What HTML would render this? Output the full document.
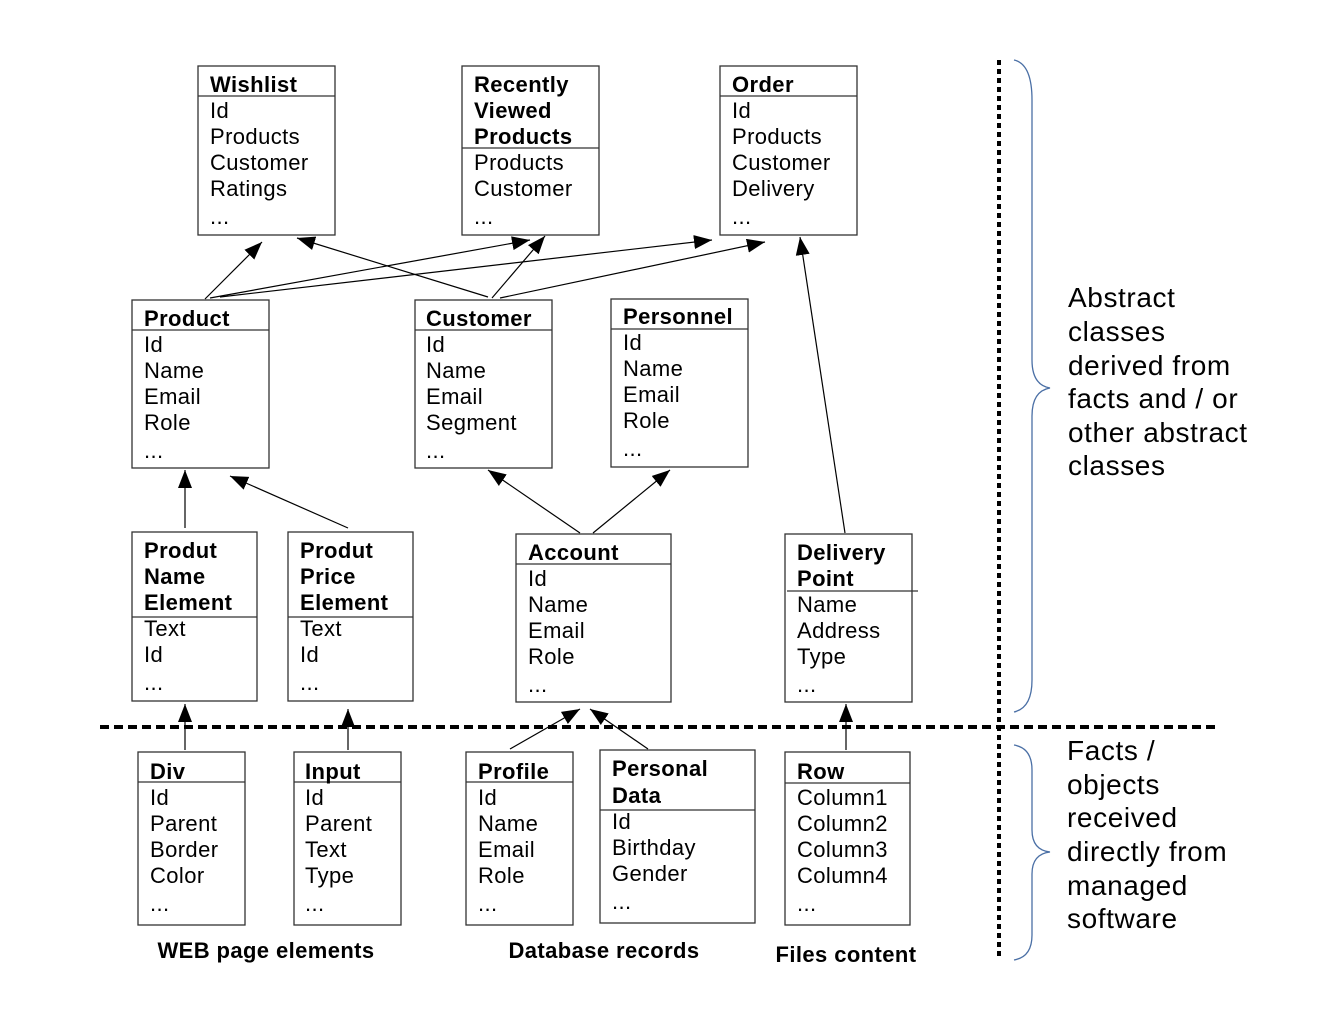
<!DOCTYPE html>
<html><head><meta charset="utf-8"><style>
html,body{margin:0;padding:0;background:#fff}
svg text{font-family:"Liberation Sans",sans-serif;font-size:22px;fill:#000;letter-spacing:0.4px}
.b{font-weight:bold}
.r{font-size:28px;letter-spacing:0.6px}
</style></head><body>
<svg width="1320" height="1020" viewBox="0 0 1320 1020" xmlns="http://www.w3.org/2000/svg">
<defs>
<marker id="a" markerWidth="20" markerHeight="14" refX="18" refY="7" orient="auto" markerUnits="userSpaceOnUse">
<path d="M0,0 L18,7 L0,14 Z" fill="#000"/></marker>
</defs>
<g fill="none" stroke="#333" stroke-width="1.3">
<rect x="198" y="66" width="137" height="169"/><line x1="198" y1="96" x2="335" y2="96"/>
<rect x="462" y="66" width="137" height="169"/><line x1="462" y1="148" x2="599" y2="148"/>
<rect x="720" y="66" width="137" height="169"/><line x1="720" y1="96" x2="857" y2="96"/>
<rect x="132" y="300" width="137" height="168"/><line x1="132" y1="330" x2="269" y2="330"/>
<rect x="415" y="300" width="137" height="168"/><line x1="415" y1="330" x2="552" y2="330"/>
<rect x="611" y="299" width="137" height="168"/><line x1="611" y1="329" x2="748" y2="329"/>
<rect x="132" y="532" width="125" height="169"/><line x1="132" y1="617" x2="257" y2="617"/>
<rect x="288" y="532" width="125" height="169"/><line x1="288" y1="617" x2="413" y2="617"/>
<rect x="516" y="534" width="155" height="168"/><line x1="516" y1="564" x2="671" y2="564"/>
<rect x="785" y="534" width="127" height="168"/><line x1="787" y1="591" x2="918" y2="591"/>
<rect x="138" y="752" width="107" height="173"/><line x1="138" y1="782" x2="245" y2="782"/>
<rect x="294" y="752" width="107" height="173"/><line x1="294" y1="782" x2="401" y2="782"/>
<rect x="466" y="752" width="107" height="173"/><line x1="466" y1="782" x2="573" y2="782"/>
<rect x="600" y="750" width="155" height="173"/><line x1="600" y1="810" x2="755" y2="810"/>
<rect x="785" y="752" width="125" height="173"/><line x1="785" y1="783" x2="910" y2="783"/>
</g>
<g stroke="#000" stroke-width="1.2" marker-end="url(#a)">
<line x1="205" y1="299" x2="262" y2="242"/>
<line x1="488" y1="297" x2="297" y2="238"/>
<line x1="210" y1="298" x2="530" y2="240"/>
<line x1="492" y1="298" x2="545" y2="236"/>
<line x1="220" y1="297" x2="712" y2="240"/>
<line x1="500" y1="298" x2="765" y2="242"/>
<line x1="845" y1="533" x2="800" y2="237"/>
<line x1="185" y1="528" x2="185" y2="470"/>
<line x1="348" y1="528" x2="230" y2="476"/>
<line x1="580" y1="533" x2="488" y2="470"/>
<line x1="593" y1="533" x2="670" y2="470"/>
<line x1="185" y1="750" x2="185" y2="704"/>
<line x1="348" y1="750" x2="348" y2="709"/>
<line x1="510" y1="749" x2="580" y2="709"/>
<line x1="648" y1="749" x2="590" y2="709"/>
<line x1="846" y1="750" x2="846" y2="704"/>
</g>
<line x1="100" y1="727" x2="1215" y2="727" stroke="#000" stroke-width="4" stroke-dasharray="9,5"/>
<line x1="999" y1="60" x2="999" y2="960" stroke="#000" stroke-width="4" stroke-dasharray="5,4"/>
<g fill="none" stroke="#4a6fa5" stroke-width="1.3">
<path d="M1014,60 Q1032,64 1032,100 L1032,360 Q1032,385 1050,388 Q1032,391 1032,416 L1032,680 Q1032,708 1014,712"/>
<path d="M1014,745 Q1032,748 1032,770 L1032,830 Q1032,850 1050,852 Q1032,854 1032,874 L1032,935 Q1032,957 1014,960"/>
</g>
<text class="b" x="210" y="92">Wishlist</text>
<text x="210" y="118">Id</text><text x="210" y="144">Products</text><text x="210" y="170">Customer</text><text x="210" y="196">Ratings</text><text x="210" y="224">...</text>
<text class="b" x="474" y="92">Recently</text><text class="b" x="474" y="118">Viewed</text><text class="b" x="474" y="144">Products</text>
<text x="474" y="170">Products</text><text x="474" y="196">Customer</text><text x="474" y="224">...</text>
<text class="b" x="732" y="92">Order</text>
<text x="732" y="118">Id</text><text x="732" y="144">Products</text><text x="732" y="170">Customer</text><text x="732" y="196">Delivery</text><text x="732" y="224">...</text>
<text class="b" x="144" y="326">Product</text>
<text x="144" y="352">Id</text><text x="144" y="378">Name</text><text x="144" y="404">Email</text><text x="144" y="430">Role</text><text x="144" y="458">...</text>
<text class="b" x="426" y="326">Customer</text>
<text x="426" y="352">Id</text><text x="426" y="378">Name</text><text x="426" y="404">Email</text><text x="426" y="430">Segment</text><text x="426" y="458">...</text>
<text class="b" x="623" y="324">Personnel</text>
<text x="623" y="350">Id</text><text x="623" y="376">Name</text><text x="623" y="402">Email</text><text x="623" y="428">Role</text><text x="623" y="456">...</text>
<text class="b" x="144" y="558">Produt</text><text class="b" x="144" y="584">Name</text><text class="b" x="144" y="610">Element</text>
<text x="144" y="636">Text</text><text x="144" y="662">Id</text><text x="144" y="690">...</text>
<text class="b" x="300" y="558">Produt</text><text class="b" x="300" y="584">Price</text><text class="b" x="300" y="610">Element</text>
<text x="300" y="636">Text</text><text x="300" y="662">Id</text><text x="300" y="690">...</text>
<text class="b" x="528" y="560">Account</text>
<text x="528" y="586">Id</text><text x="528" y="612">Name</text><text x="528" y="638">Email</text><text x="528" y="664">Role</text><text x="528" y="692">...</text>
<text class="b" x="797" y="560">Delivery</text><text class="b" x="797" y="586">Point</text>
<text x="797" y="612">Name</text><text x="797" y="638">Address</text><text x="797" y="664">Type</text><text x="797" y="692">...</text>
<text class="b" x="150" y="779">Div</text>
<text x="150" y="805">Id</text><text x="150" y="831">Parent</text><text x="150" y="857">Border</text><text x="150" y="883">Color</text><text x="150" y="911">...</text>
<text class="b" x="305" y="779">Input</text>
<text x="305" y="805">Id</text><text x="305" y="831">Parent</text><text x="305" y="857">Text</text><text x="305" y="883">Type</text><text x="305" y="911">...</text>
<text class="b" x="478" y="779">Profile</text>
<text x="478" y="805">Id</text><text x="478" y="831">Name</text><text x="478" y="857">Email</text><text x="478" y="883">Role</text><text x="478" y="911">...</text>
<text class="b" x="612" y="776">Personal</text><text class="b" x="612" y="803">Data</text>
<text x="612" y="829">Id</text><text x="612" y="855">Birthday</text><text x="612" y="881">Gender</text><text x="612" y="909">...</text>
<text class="b" x="797" y="779">Row</text>
<text x="797" y="805">Column1</text><text x="797" y="831">Column2</text><text x="797" y="857">Column3</text><text x="797" y="883">Column4</text><text x="797" y="911">...</text>
<text class="b" x="266" y="958" text-anchor="middle">WEB page elements</text>
<text class="b" x="604" y="958" text-anchor="middle">Database records</text>
<text class="b" x="846" y="962" text-anchor="middle">Files content</text>
<text class="r" x="1068" y="307">Abstract</text>
<text class="r" x="1068" y="341">classes</text>
<text class="r" x="1068" y="375">derived from</text>
<text class="r" x="1068" y="408">facts and / or</text>
<text class="r" x="1068" y="442">other abstract</text>
<text class="r" x="1068" y="475">classes</text>
<text class="r" x="1067" y="760">Facts /</text>
<text class="r" x="1067" y="794">objects</text>
<text class="r" x="1067" y="827">received</text>
<text class="r" x="1067" y="861">directly from</text>
<text class="r" x="1067" y="895">managed</text>
<text class="r" x="1067" y="928">software</text>
</svg>
</body></html>
